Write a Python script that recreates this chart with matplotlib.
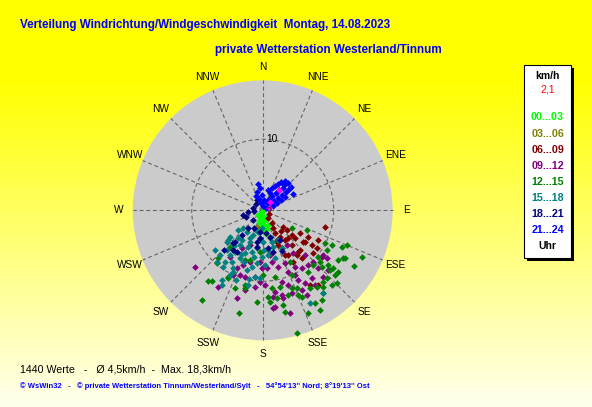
import matplotlib.pyplot as plt
from matplotlib.patches import Circle, Rectangle
import numpy as np

W, H = 592, 407

richtungen = ['N', 'NNE', 'NE', 'ENE', 'E', 'ESE', 'SE', 'SSE',
              'S', 'SSW', 'SW', 'WSW', 'W', 'WNW', 'NW', 'NNW']
ring_wert = 10
max_kmh = 18.3

zeitraeume = ['00...03', '03...06', '06...09', '09...12',
              '12...15', '15...18', '18...21', '21...24']
farben = ['#00ff00', '#808000', '#800000', '#800080',
          '#008000', '#008080', '#000080', '#0000ff']

# Windvektoren: Ost- und Nordkomponente in km/h
ost_00 = [-0.24, 0.04, -0.38, 0.18, -0.10, 0.32, -0.24, 0.18, 0.46, -0.52, 0.61, 0.04, -0.38, 0.46, 0.75, -0.66]
nord_00 = [-0.38, -0.80, -1.23, -1.51, -1.93, -2.21, -2.49, -2.92, -3.34, -1.65, -2.63, -0.10, -2.21, -1.08, -2.07, -0.66]

ost_03 = [-0.85, -1.10, -0.50]
nord_03 = [-2.31, -2.70, -3.10]

ost_06 = [0.79, 1.27, 1.49, 1.73, 2.90, 3.38, 4.08, 4.55, 5.25, 5.72, 6.42, 7.83, 8.77, 5.25, 4.79, 4.08,
          3.14, 2.44, 1.97, 2.68, 3.61, 5.49, 4.31, 7.83, 2.60, 6.94, 7.65, 4.97, 7.08, 2.15, 3.14, 0.89,
          3.61, 5.96, 1.97, 6.66]
nord_06 = [-1.13, -1.83, -2.54, -3.24, -2.31, -2.77, -3.48, -3.94, -3.24, -4.42, -3.72, -4.18, -2.31, -5.59, -6.30, -4.89,
           -4.18, -3.72, -4.42, -5.35, -6.30, -6.76, -7.24, -10.52, -2.90, -4.89, -5.31, -5.87, -6.01, -4.89, -6.30, -0.52,
           -3.94, -4.42, -4.18, -10.52]

ost_09 = [-9.54, -6.25, -3.66, -4.61, -3.66, -2.49, -1.08, -3.20, -0.14, -1.08, -2.73, -1.79, -2.96, -4.14, -0.38, 0.56,
          1.27, 2.20, 3.14, 3.61, 4.55, 5.49, 6.42, 7.13, 8.31, 9.01, 8.54, 2.68, 3.61, 5.01, 5.96, 6.90,
          1.73, 2.68, 4.08, 5.49, 6.20, 1.03, 4.31, 5.96, 7.83, 3.38, 8.54, 9.24, 1.49, 1.73, 2.90, 3.85,
          1.49, 0.32, 4.55, 7.37, -0.38, -1.79, -2.49]
nord_09 = [-7.94, -10.76, -12.39, -6.54, -8.17, -9.35, -9.35, -9.11, -8.17, -10.76, -7.70, -4.89, -5.35, -9.11, -10.06, -8.17,
           -7.24, -7.94, -7.46, -8.65, -7.94, -8.17, -7.70, -7.24, -6.54, -6.76, -9.35, -10.06, -10.52, -9.82, -10.28, -9.58,
           -11.46, -11.93, -11.69, -11.23, -11.93, -6.30, -6.06, -6.30, -8.17, -4.89, -6.30, -8.41, -12.17, -13.58, -12.39, -14.51,
           -13.80, -10.52, -9.11, -10.52, -7.28, -7.28, -11.23]

ost_12 = [-6.25, -6.48, -4.61, -7.66, -7.18, -4.85, -3.90, -2.49, -2.49, -1.79, -0.38, 4.08, 6.20, 8.77, 9.72, 9.01,
          10.65, 11.35, 7.83, 8.07, 9.48, 10.18, 10.42, 8.54, 7.61, 6.66, 5.49, 4.79, 4.08, 2.44, 1.27, 0.79,
          3.61, 6.42, 4.08, 1.73, 0.08, 3.85, 7.13, 8.31, 11.13, 11.83, 11.59, 14.03, 12.90, 9.94, 10.65, 9.72,
          9.01, 8.54, 9.24, 8.54, 7.37, 8.07, 6.42, 4.90, 3.14, 1.97, 1.03, -0.85, -2.49, -3.30, -8.59, -4.85,
          2.90, 5.01, 8.31]
nord_12 = [-6.76, -7.46, -5.13, -9.96, -9.96, -9.58, -10.99, -10.99, -7.00, -7.00, -5.83, -2.54, -2.77, -4.65, -4.89, -5.59,
           -7.00, -6.76, -6.54, -7.24, -8.41, -9.11, -10.28, -10.06, -10.76, -10.99, -12.17, -10.99, -10.99, -10.76, -10.99, -12.17,
           -11.93, -8.65, -9.11, -9.35, -9.11, -7.24, -7.70, -7.94, -5.13, -4.89, -6.76, -6.54, -7.80, -8.17, -8.65, -10.52,
           -9.58, -10.76, -7.70, -11.69, -13.10, -14.04, -14.51, -17.32, -14.28, -12.39, -12.87, -12.87, -10.52, -14.51, -12.63, -9.35,
           -13.34, -11.93, -12.63]

ost_15 = [-3.44, -2.25, -4.85, -6.72, -5.07, -5.31, -5.55, -5.77, -4.37, -3.20, -2.49, -1.55, -0.14, -1.79, -1.32, -0.62,
          -4.14, -2.25, -1.55, -0.85, -4.61, -4.61, -5.07, -6.01, -6.48, -5.77, -4.14, -1.79, -0.85, 0.08, 0.79, 1.49,
          6.66, 8.54, -0.38, 1.03, 0.79, -3.20, -3.90, -2.63, -3.48, -0.10, 2.15, 2.72, 1.73, 0.32, -3.76, -1.93,
          -1.08, -2.03, -2.90, -4.00, -2.00, -3.00, -4.60, -1.20, 0.20, -0.40, 1.30, -2.80, -1.00]
nord_15 = [-2.77, -3.01, -4.18, -5.59, -5.59, -7.24, -7.94, -9.82, -7.24, -6.76, -6.06, -5.83, -6.54, -3.94, -3.48, -3.01,
           -8.17, -8.41, -7.94, -7.46, -9.11, -3.72, -4.42, -6.30, -7.24, -10.52, -8.65, -4.42, -5.35, -4.42, -6.30, -5.13,
           -13.10, -11.69, -9.58, -3.94, -5.59, -4.89, -5.87, -7.28, -3.90, -2.49, -4.18, -5.31, -6.72, -7.70, -9.82, -9.68,
           -9.35, -10.52, -4.20, -5.00, -5.20, -6.10, -6.30, -6.60, -5.60, -4.00, -4.50, -2.50, -2.80]

ost_18 = [-2.77, -2.07, -1.37, -0.94, -0.80, -1.23, -1.37, -1.23, 0.46, 1.03, 2.44, 1.45, 2.72, -4.18, -3.62, -0.80,
          -0.38, -2.92, -3.90, -5.45, -4.18, -0.80, -0.38, -2.07, 0.79, -2.35]
nord_18 = [-0.66, -0.24, 0.32, 0.89, 1.45, -0.10, -1.37, -2.49, -3.20, -3.76, -4.18, -5.87, -5.73, -4.61, -5.87, -4.46,
           -3.06, -3.48, -4.46, -5.59, -5.59, -5.17, -3.90, -2.49, -5.27, -0.90]

ost_21 = [-0.66, -0.38, -0.80, -0.10, -0.52, -0.24, 0.04, 0.46, -0.94, 0.75, 1.31, 1.73, 2.15, 2.58, 3.14, 3.56,
          2.86, 2.30, 1.87, 1.31, 0.89, 0.46, 1.03, 1.59, 2.15, 2.72, 3.28, 3.70, 3.14, 2.58, 2.01, 1.45,
          0.75, 4.27, 0.18, 1.03, 3.99, 2.99]
nord_21 = [3.70, 3.14, 2.58, 2.15, 1.59, 1.03, 0.61, 0.32, 2.01, 2.86, 3.14, 3.42, 3.70, 3.99, 4.13, 3.85,
           3.14, 2.86, 2.44, 2.01, 1.59, 1.17, 0.89, 1.31, 1.73, 2.15, 2.58, 3.00, 1.87, 1.45, 1.03, 0.61,
           0.46, 2.30, 1.45, 2.44, 3.28, 3.56]

ost_letzte = [2.30, 1.03, 0.89]
nord_letzte = [2.86, 1.17, 0.32]

ost_werte = [ost_00, ost_03, ost_06, ost_09, ost_12, ost_15, ost_18, ost_21]
nord_werte = [nord_00, nord_03, nord_06, nord_09, nord_12, nord_15, nord_18, nord_21]


def px(x, y):
    return x / W, 1 - y / H


fig = plt.figure(figsize=(W / 100, H / 100), dpi=100)

# Hintergrund-Verlauf gelb -> hellgelb
bg = fig.add_axes([0, 0, 1, 1], zorder=-1)
zeilen = np.arange(H)
blau = np.clip((zeilen - 80) * 0.73, 0, 235) / 255.0
verlauf = np.ones((H, 1, 3))
verlauf[:, 0, 2] = blau
bg.imshow(verlauf, aspect='auto', extent=[0, 1, 0, 1])
bg.axis('off')

# Polardiagramm: Mitte bei (262.7, 210.3) px, 7.1 px pro km/h
lim = 21.5
mx, my, skala = 262.7, 210.3, 7.1
breite = 2 * lim * skala
ax = fig.add_axes([(mx - breite / 2) / W, (H - my - breite / 2) / H, breite / W, breite / H])
ax.set_xlim(-lim, lim)
ax.set_ylim(-lim, lim)
ax.axis('off')

ax.add_patch(Circle((0, 0), max_kmh, fc='#cbcbcb', ec='none', zorder=0))
strich = (0, (3.5, 2.5))
for i, name in enumerate(richtungen):
    w = np.radians(22.5 * i)
    ax.plot([0, max_kmh * np.sin(w)], [0, max_kmh * np.cos(w)],
            ls=strich, color='#666666', lw=0.8, zorder=1)
    ax.text(20.25 * np.sin(w), 20.25 * np.cos(w), name, ha='center', va='center',
            fontsize=7.3, family='Liberation Sans', color='black', clip_on=False)
ax.add_patch(Circle((0, 0), ring_wert, fill=False, ec='#666666', lw=0.8, ls=strich, zorder=1))
ax.text(0.45, ring_wert, '10', ha='left', va='center', fontsize=7.3,
        family='Liberation Sans', zorder=5)
ax.text(0.55, 0, '0', ha='left', va='center', fontsize=6, family='Liberation Sans', zorder=5)

for o, n, c in zip(ost_werte, nord_werte, farben):
    ax.plot(o, n, 'D', ms=3.4, mew=0, color=c, zorder=3)
ax.plot(ost_letzte, nord_letzte, 'D', ms=3.4, mew=0, color='#ff00ff', zorder=3)

# Titel
fig.text(*px(20, 25), 'Verteilung Windrichtung/Windgeschwindigkeit  Montag, 14.08.2023',
         color='#0000ff', fontsize=8.4, fontweight='bold', family='Liberation Sans', ha='left', va='center')
fig.text(*px(215, 50), 'private Wetterstation Westerland/Tinnum',
         color='#0000ff', fontsize=8.4, fontweight='bold', family='Liberation Sans', ha='left', va='center')

# Legende
fig.patches.append(Rectangle(px(527.3, 261), 46.4 / W, 193 / H, transform=fig.transFigure,
                             fc='black', ec='none', zorder=2))
fig.patches.append(Rectangle(px(524.3, 258), 46.4 / W, 193 / H, transform=fig.transFigure,
                             fc='white', ec='black', lw=0.8, zorder=3))
lx = 547.5
fig.text(*px(lx, 75.7), 'km/h', ha='center', va='center', fontsize=7.5, fontweight='bold',
         family='Liberation Sans', zorder=4)
fig.text(*px(lx, 90), '2,1', ha='center', va='center', fontsize=7.5, color='red',
         family='Liberation Sans', zorder=4)
legende_y = [117.3, 134, 150, 166, 182.3, 197.7, 213.7, 229.7]
for text, c, yy in zip(zeitraeume, farben, legende_y):
    fig.text(*px(lx, yy), text, ha='center', va='center', fontsize=7.7, fontweight='bold',
             color=c, family='Liberation Sans', zorder=4)
fig.text(*px(lx, 246.3), 'Uhr', ha='center', va='center', fontsize=7.5, fontweight='bold',
         family='Liberation Sans', zorder=4)

# Fusszeilen
fig.text(*px(20, 369), '1440 Werte   -   Ø 4,5km/h  -  Max. 18,3km/h', ha='left', va='center',
         fontsize=7.7, family='Liberation Sans', color='black')
fig.text(*px(20, 386), "© WsWin32   -   © private Wetterstation Tinnum/Westerland/Sylt   -   "
         "54°54'13'' Nord; 8°19'13'' Ost", ha='left', va='center',
         fontsize=5.5, fontweight='bold', family='Liberation Sans', color='#0000ff')

fig.savefig('out.png', dpi=100)
